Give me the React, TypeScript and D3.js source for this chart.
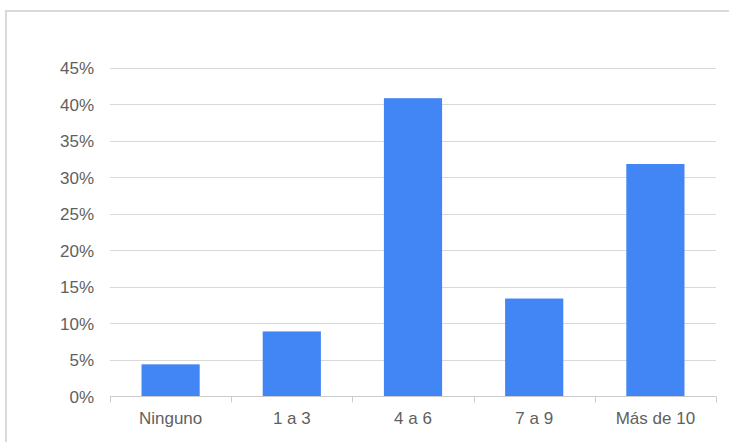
import React, { useEffect, useRef } from "react";
import * as d3 from "d3";

const categories = ["Ninguno", "1 a 3", "4 a 6", "7 a 9", "Más de 10"];
const values = [4.4, 8.9, 40.8, 13.4, 31.8];
const yTicks = [0, 5, 10, 15, 20, 25, 30, 35, 40, 45];

const W = 729;
const H = 442;

export default function App() {
  const ref = useRef<SVGSVGElement>(null);
  useEffect(() => {
    const svg = d3.select(ref.current);
    svg.selectAll("*").remove();
    const x0 = 110, x1 = 716, y0 = 396.5, y1 = 67.5;
    const x = d3.scaleBand<string>().domain(categories).range([x0, x1]).paddingInner(0.52).paddingOuter(0.26);
    const y = d3.scaleLinear().domain([0, 45]).range([y0, y1]);
    const band = d3.scaleBand<string>().domain(categories).range([x0, x1]);

    // border
    svg.append("rect").attr("x", 6).attr("y", 11).attr("width", 740).attr("height", 450)
      .attr("fill", "none").attr("stroke", "#d9d9d9").attr("stroke-width", 2);

    const font = "'Liberation Sans', Arial, sans-serif";
    // gridlines
    svg.append("g").selectAll("line").data(yTicks.filter(t => t > 0)).join("line")
      .attr("x1", x0).attr("x2", x1)
      .attr("y1", d => Math.round(y(d)) + 0.5).attr("y2", d => Math.round(y(d)) + 0.5)
      .attr("stroke", "#d9d9d9").attr("stroke-width", 1);

    svg.append("g").selectAll("text").data(yTicks).join("text")
      .attr("x", 94).attr("y", d => y(d) + 6.5)
      .attr("text-anchor", "end").attr("font-family", font).attr("font-size", 17)
      .attr("fill", "#5f5f5f").text(d => `${d}%`);

    // bars
    svg.append("g").selectAll("rect").data(values).join("rect")
      .attr("x", (_, i) => x(categories[i])!)
      .attr("width", x.bandwidth())
      .attr("y", d => y(d))
      .attr("height", d => y0 - y(d))
      .attr("fill", "#4285f4");

    // baseline and ticks
    svg.append("line").attr("x1", x0).attr("x2", x1).attr("y1", y0).attr("y2", y0)
      .attr("stroke", "#cccccc").attr("stroke-width", 1);
    const tickXs = categories.map(c => band(c)!).concat([x1]);
    svg.append("g").selectAll("line").data(tickXs).join("line")
      .attr("x1", d => Math.round(d) + 0.5).attr("x2", d => Math.round(d) + 0.5)
      .attr("y1", y0).attr("y2", y0 + 6)
      .attr("stroke", "#cccccc");

    svg.append("g").selectAll("text").data(categories).join("text")
      .attr("x", d => band(d)! + band.bandwidth() / 2).attr("y", 424)
      .attr("text-anchor", "middle").attr("font-family", font).attr("font-size", 17)
      .attr("fill", "#5f5f5f").text(d => d);
  }, []);
  return (
    <svg ref={ref} width={W} height={H} style={{ position: "absolute", left: 0, top: 0, background: "#fff" }} />
  );
}
